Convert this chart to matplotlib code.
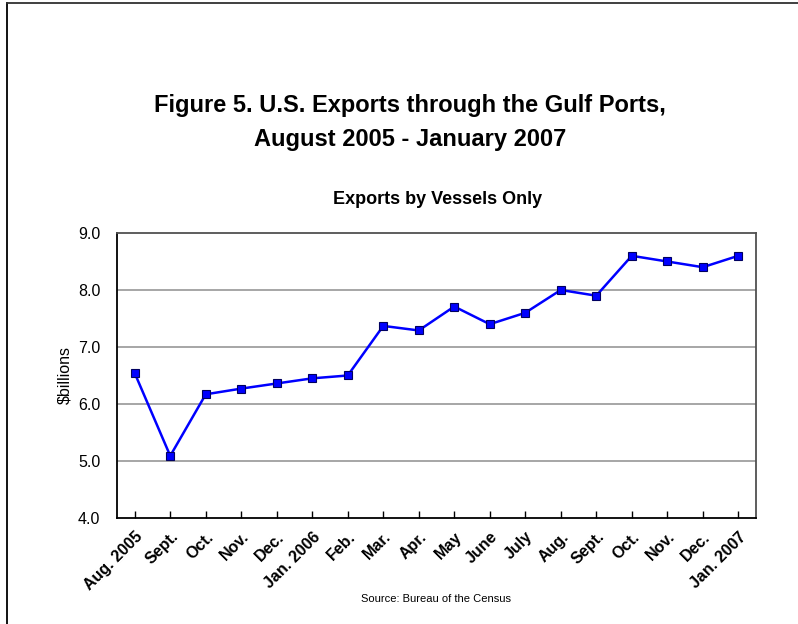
import matplotlib
matplotlib.use("Agg")
import matplotlib.pyplot as plt
from matplotlib.lines import Line2D
import numpy as np

months = ["Aug. 2005", "Sept.", "Oct.", "Nov.", "Dec.", "Jan. 2006", "Feb.",
          "Mar.", "Apr.", "May", "June", "July", "Aug.", "Sept.", "Oct.",
          "Nov.", "Dec.", "Jan. 2007"]
exports = [6.54, 5.09, 6.17, 6.27, 6.36, 6.45, 6.50, 7.37, 7.29,
           7.71, 7.40, 7.60, 8.00, 7.90, 8.60, 8.50, 8.40, 8.60]
y_ticks = [4.0, 5.0, 6.0, 7.0, 8.0, 9.0]

plt.rcParams['font.family'] = ['Liberation Sans', 'DejaVu Sans']

fig = plt.figure(figsize=(7.98, 6.24), dpi=100)
ax = fig.add_axes([0.1466, 0.1699, 0.8008, 0.4567])

x = np.arange(len(months))
ax.plot(x, exports, color='#0000ff', linewidth=1.8, marker='s',
        markersize=5.5, markerfacecolor='#0000ff', markeredgecolor='#000060',
        markeredgewidth=0.8, zorder=3)

ax.set_xlim(-0.5, len(months) - 0.5)
ax.set_ylim(4.0, 9.0)
ax.set_yticks(y_ticks)
ax.set_yticklabels([f"{v:.1f}" for v in y_ticks], fontsize=11.5)
ax.tick_params(axis='y', length=0, pad=12)
ax.set_xticks(x)
ax.set_xticklabels(months, rotation=45, ha='right', rotation_mode='anchor',
                   fontsize=11.5, fontweight='bold')
ax.tick_params(axis='x', direction='in', length=5, width=1, pad=8)

# horizontal gridlines
for v in y_ticks[1:-1]:
    ax.axhline(v, color='#a6a6a6', linewidth=1.4, zorder=1)

for side in ['left', 'bottom']:
    ax.spines[side].set_linewidth(1.3)
    ax.spines[side].set_color('black')
for side in ['top', 'right']:
    ax.spines[side].set_linewidth(1.3)
    ax.spines[side].set_color('#505050')

ax.set_ylabel("$billions", fontsize=11.5, labelpad=4)

fig.text(0.514, 0.831, "Figure 5. U.S. Exports through the Gulf Ports,",
         ha='center', va='center', fontsize=17, fontweight='bold')
fig.text(0.514, 0.776, "August 2005 - January 2007",
         ha='center', va='center', fontsize=17, fontweight='bold')
fig.text(0.548, 0.681, "Exports by Vessels Only",
         ha='center', va='center', fontsize=13, fontweight='bold')
fig.text(0.546, 0.040, "Source: Bureau of the Census",
         ha='center', va='center', fontsize=8)

# outer frame (left and top edges)
fig.add_artist(Line2D([0.009, 0.009], [0.0, 0.995], color='black',
                      linewidth=1.3, transform=fig.transFigure))
fig.add_artist(Line2D([0.009, 1.0], [0.995, 0.995], color='#303030',
                      linewidth=1.3, transform=fig.transFigure))

fig.savefig("out.png", dpi=100)
